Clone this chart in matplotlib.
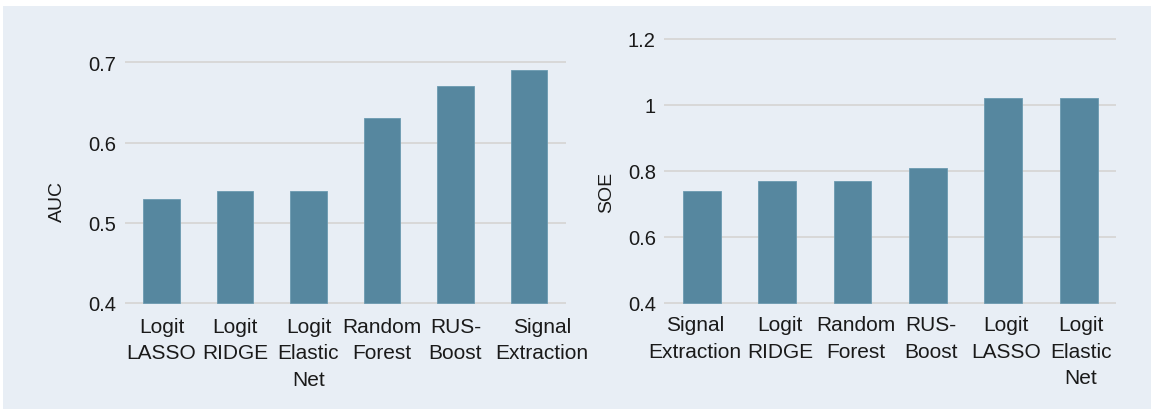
import matplotlib
matplotlib.use("Agg")
import matplotlib.pyplot as plt
from matplotlib.patches import Rectangle

plt.rcParams['font.family'] = ['Liberation Sans', 'DejaVu Sans']

# datos de los dos paneles
auc_modelos = ["Logit\nLASSO", "Logit\nRIDGE", "Logit\nElastic\nNet",
               "Random\nForest", "RUS-\nBoost", "Signal\nExtraction"]
auc_valores = [0.53, 0.54, 0.54, 0.63, 0.67, 0.69]
auc_ticks = [0.4, 0.5, 0.6, 0.7]
auc_ticklabels = ["0.4", "0.5", "0.6", "0.7"]

soe_modelos = ["Signal\nExtraction", "Logit\nRIDGE", "Random\nForest",
               "RUS-\nBoost", "Logit\nLASSO", "Logit\nElastic\nNet"]
soe_valores = [0.74, 0.77, 0.77, 0.81, 1.02, 1.02]
soe_ticks = [0.4, 0.6, 0.8, 1.0, 1.2]
soe_ticklabels = ["0.4", "0.6", "0.8", "1", "1.2"]

fondo = "#e8eef5"
barra = "#56879f"
rejilla = "#d8d8d8"
texto = "#1a1a1a"

W, H = 1151, 410
fig = plt.figure(figsize=(W / 100, H / 100), dpi=100, facecolor="white")
fig.patches.append(Rectangle((3 / W, 0), 1, 1 - 7 / H, transform=fig.transFigure,
                             facecolor=fondo, edgecolor="none", zorder=-10))


def ejes(x0, x1, ytop, ybot):
    # convierte pixeles (origen arriba-izquierda) a fracciones de la figura
    return fig.add_axes([x0 / W, 1 - ybot / H, (x1 - x0) / W, (ybot - ytop) / H])


def panel(ax, modelos, valores, ticks, ticklabels, ylim, ylabel, label_xy, desplaz):
    ax.set_facecolor("none")
    base = ticks[0]
    pos = list(range(len(modelos)))
    ax.bar(pos, [v - base for v in valores], bottom=base, width=0.5,
           color=barra, edgecolor="#6b9ab1", linewidth=0.6, zorder=3)
    ax.set_xlim(-0.5, len(modelos) - 0.5)
    ax.set_ylim(*ylim)
    ax.set_yticks(ticks)
    ax.set_yticklabels(ticklabels, fontsize=14.5)
    ax.set_xticks(pos)
    ax.set_xticklabels([])
    # etiquetas del eje x, algunas corridas unos pixeles para que no se encimen
    for i, nombre in enumerate(modelos):
        dx = desplaz.get(i, 0) * 0.72
        ax.annotate(nombre, xy=(i, 0), xycoords=ax.get_xaxis_transform(),
                    xytext=(dx, -4), textcoords="offset points",
                    ha="center", va="top", fontsize=15, linespacing=1.5,
                    color=texto, annotation_clip=False)
    for t in ticks:
        ax.axhline(t, color=rejilla, linewidth=1.4, zorder=1)
    for s in ax.spines.values():
        s.set_visible(False)
    ax.tick_params(axis="both", length=0, colors=texto)
    ax.tick_params(axis="y", pad=6)
    ax.set_ylabel(ylabel, fontsize=14, color=texto)
    ax.yaxis.set_label_coords(*label_xy)


ax1 = ejes(124.8, 565.6, 55.3, 312.0)
panel(ax1, auc_modelos, auc_valores, auc_ticks, auc_ticklabels,
      (0.39, 0.71), "AUC", (-0.1345, 0.43), {5: 13})

ax2 = ejes(664.1, 1116.4, 33.4, 310.6)
panel(ax2, soe_modelos, soe_valores, soe_ticks, soe_ticklabels,
      (0.38, 1.22), "SOE", (-0.1086, 0.425), {0: -7, 1: 3, 2: 3, 3: 3, 4: 3, 5: 2})

fig.savefig("out.png", dpi=100, facecolor=fig.get_facecolor())
